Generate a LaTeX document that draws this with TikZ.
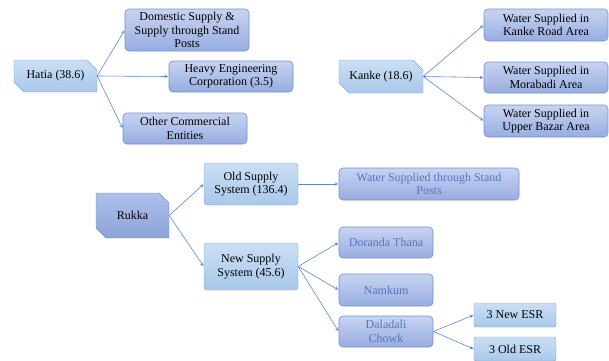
\documentclass[tikz,border=0pt]{standalone}
\usepackage{fontspec}
\setmainfont{Liberation Serif}
\newfontfamily\boxfont{Liberation Serif}
\usepackage{tikz}
\usetikzlibrary{calc, positioning, arrows, shapes.misc}
\definecolor{lightA}{HTML}{CADFF4}
\definecolor{lightB}{HTML}{A9C8EA}
\definecolor{lightD}{HTML}{7EA7DA}
\definecolor{periA}{HTML}{C8D3F1}
\definecolor{periB}{HTML}{97ADE0}
\definecolor{periD}{HTML}{6F8FD8}
\definecolor{rukA}{HTML}{AEC0EA}
\definecolor{rukB}{HTML}{8CA3DA}
\definecolor{linkc}{HTML}{5B87D6}
\definecolor{paletext}{HTML}{5A74BE}

\begin{document}
\begin{tikzpicture}[x=1pt,y=-1pt]
  \tikzset{box/.style={align=center,inner sep=1pt,font=\boxfont\fontsize{12}{13.5}\selectfont},
    hub/.style={box,chamfered rectangle,chamfered rectangle corners={north east,south west},
      chamfered rectangle xsep=5pt,chamfered rectangle ysep=5pt,draw=lightD,
      top color=lightA,bottom color=lightB},
    mid/.style={box,rounded corners=3pt,draw=lightD,top color=lightA,bottom color=lightB},
    leaf/.style={box,rounded corners=4pt,draw=periD,line width=0.6pt,top color=periA,bottom color=periB},
    pale/.style={leaf,text=paletext},
    link/.style={->,>=stealth,draw=linkc,line width=0.6pt,shorten >=0.5pt}}
  \useasboundingbox (0,0) rectangle (609,360);
  % Hatia
  \node[hub,minimum width=83pt,minimum height=32pt](hatia) at (55.5,76) {Hatia (38.6)};
  \node[leaf,minimum width=124pt,minimum height=42pt](dom) at (187,30) {Domestic Supply \&\\Supply through Stand\\Posts};
  \node[leaf,minimum width=124pt,minimum height=31pt](heavy) at (231,76.5) {Heavy Engineering\\Corporation (3.5)};
  \node[leaf,minimum width=124pt,minimum height=31pt](other) at (185,128.5) {Other Commercial\\Entities};
  \draw [link] (hatia.east) -- (dom.west);
  \draw [link] (hatia.east) -- (heavy.west);
  \draw [link] (hatia.east) -- (other.west);
  % Kanke
  \node[hub,minimum width=84pt,minimum height=33pt](kanke) at (381,76.5) {Kanke (18.6)};
  \node[leaf,minimum width=124pt,minimum height=32pt](kroad) at (546,25) {Water Supplied in\\Kanke Road Area};
  \node[leaf,minimum width=124pt,minimum height=31pt](mora) at (546,77.5) {Water Supplied in\\Morabadi Area};
  \node[leaf,minimum width=124pt,minimum height=32pt](ubazar) at (546,121) {Water Supplied in\\Upper Bazar Area};
  \draw [link] (kanke.east) -- (kroad.west);
  \draw [link] (kanke.east) -- (mora.west);
  \draw [link] (kanke.east) -- (ubazar.west);
  % Rukka
  \node[hub,draw=periD,top color=rukA,bottom color=rukB,minimum width=73pt,minimum height=45pt](rukka) at (132.5,215.5) {Rukka};
  \node[mid,minimum width=94pt,minimum height=42pt](old) at (251,184) {Old Supply\\System (136.4)};
  \node[mid,minimum width=94pt,minimum height=47pt](new) at (251,266.5) {New Supply\\System (45.6)};
  \node[pale,minimum width=180pt,minimum height=32pt](stand) at (429,184) {Water Supplied through Stand\\Posts};
  \node[pale,minimum width=94pt,minimum height=31pt](doranda) at (386,242.5) {Doranda Thana};
  \node[pale,minimum width=94pt,minimum height=32pt](namkum) at (386,290) {Namkum};
  \node[pale,minimum width=94pt,minimum height=31pt](daladali) at (386,331.5) {Daladali\\Chowk};
  \node[mid,rounded corners=1.5pt,minimum width=82pt,minimum height=24pt](newesr) at (515,315) {3 New ESR};
  \node[mid,rounded corners=1.5pt,minimum width=82pt,minimum height=24pt](oldesr) at (515,349) {3 Old ESR};
  \draw [link] (rukka.east) -- (old.west);
  \draw [link] (rukka.east) -- (new.west);
  \draw [link] (old.east) -- (stand.west);
  \draw [link] (new.east) -- (doranda.west);
  \draw [link] (new.east) -- (namkum.west);
  \draw [link] (new.east) -- (daladali.west);
  \draw [link] (daladali.east) -- (newesr.west);
  \draw [link] (daladali.east) -- (oldesr.west);
\end{tikzpicture}
\end{document}
